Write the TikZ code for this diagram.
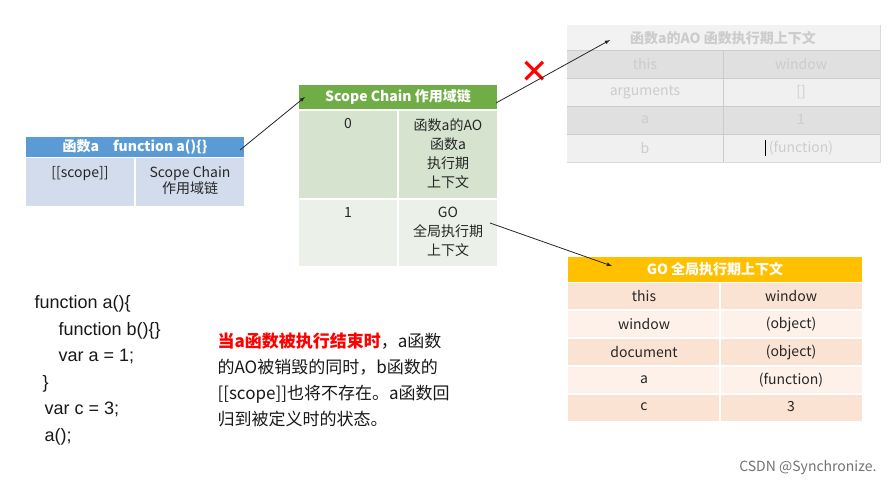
\documentclass[tikz,border=0pt]{standalone}
\usepackage{fontspec}
\setmainfont{Noto Sans CJK SC}
\newfontfamily\symfont{DejaVu Sans}
\newfontfamily\codefont{Liberation Sans}
\begin{document}
\begin{tikzpicture}[x=1pt,y=-1pt,
  cell/.style={draw=white,line width=1.2pt,inner sep=0pt,anchor=north west},
  t/.style={font=\fontsize{14}{16}\selectfont,align=center,text=black!85},
  hd/.style={font=\bfseries\fontsize{14}{16}\selectfont,text=white},
  ar/.style={-latex,thick,black!85}]
\useasboundingbox[fill=white] (0,0) rectangle (893,489);
\definecolor{blueh}{HTML}{5B9BD5}\definecolor{bluer}{HTML}{D3DCEC}
\definecolor{greenh}{HTML}{70AD47}\definecolor{greenr}{HTML}{D5E3CF}\definecolor{greenr2}{HTML}{EBF1E8}
\definecolor{goldh}{HTML}{FFC000}\definecolor{goldr}{HTML}{FBE3D3}\definecolor{goldr2}{HTML}{FDF1E9}
% left table
\fill[blueh] (26,137) rectangle (244,157);
\node[hd] (lh) at (135,147) {函数a\quad function a()\{\}};
\fill[bluer] (26,158) rectangle (134,206);
\fill[bluer] (136,158) rectangle (244,206);
\node[t,anchor=north] (l1) at (80,163) {[[scope]]};
\node[t,anchor=north] (l2) at (190,163) {Scope Chain\\作用域链};
% green table
\fill[greenh] (299,85) rectangle (497,109);
\node[hd] (gh) at (398,97) {Scope Chain 作用域链};
\fill[greenr] (299,111) rectangle (397,198);
\fill[greenr] (399,111) rectangle (497,198);
\fill[greenr2] (299,200) rectangle (397,266);
\fill[greenr2] (399,200) rectangle (497,266);
\node[t,anchor=north] (g0) at (348,115) {0};
\node[t,anchor=north,font=\fontsize{14}{19}\selectfont] (g0v) at (448,115) {函数a的AO\\函数a\\执行期\\上下文};
\node[t,anchor=north] (g1) at (348,204) {1};
\node[t,anchor=north,font=\fontsize{14}{19}\selectfont] (g1v) at (448,204) {GO\\全局执行期\\上下文};
% faded table
\draw[black!15] (567,25) rectangle (880,162);
\fill[black!5] (567,25) rectangle (880,50);
\foreach \y/\c in {50/black!12,78/black!6,106/black!12,134/black!6}{\fill[\c] (567,\y) rectangle (880,\y+28);}
\foreach \y in {50,78,106,134}{\draw[black!20] (567,\y) -- (880,\y);}
\draw[black!20] (723,50) -- (723,162);
\node[font=\bfseries\fontsize{14}{16}\selectfont,text=black!20] (fh) at (723,38) {函数a的AO 函数执行期上下文};
\begin{scope}[every node/.style={font=\fontsize{14}{16}\selectfont,text=black!20}]
\node (f1) at (645,64) {this}; \node (f1v) at (801,64) {window};
\node (f2) at (645,92) {arguments}; \node (f2v) at (801,92) {[]};
\node (f3) at (645,120) {a}; \node (f3v) at (801,120) {1};
\node (f4) at (645,148) {b}; \node (f4v) at (801,148) {(function)};
\end{scope}
\draw[black,thick] (765,140) -- (765,156);
% red X
\node[text=red,font=\symfont\bfseries\fontsize{34}{34}\selectfont] (x) at (535,72) {✕};
% GO table
\fill[goldh] (568,257) rectangle (862,282);
\node[hd] (oh) at (715,269) {GO 全局执行期上下文};
\foreach \y/\c in {282/goldr,310/goldr2,338/goldr,366/goldr2,394/goldr}{
  \fill[\c] (568,\y+1) rectangle (719,\y+27);\fill[\c] (721,\y+1) rectangle (862,\y+27);}
\begin{scope}[every node/.style={t}]
\node (o1) at (644,296) {this}; \node (o1v) at (791,296) {window};
\node (o2) at (644,324) {window}; \node (o2v) at (791,324) {(object)};
\node (o3) at (644,352) {document}; \node (o3v) at (791,352) {(object)};
\node (o4) at (644,380) {a}; \node (o4v) at (791,380) {(function)};
\node (o5) at (644,407) {c}; \node (o5v) at (791,407) {3};
\end{scope}
% arrows
\coordinate (a1s) at (240,150); \coordinate (a1e) at (305,97);
\draw[ar] (a1s) -- (a1e);
\coordinate (a2s) at (496,103); \coordinate (a2e) at (610,40);
\draw[ar] (a2s) -- (a2e);
\coordinate (a3s) at (490,223); \coordinate (a3e) at (612,266);
\draw[ar] (a3s) -- (a3e);
% code
\node[anchor=north west,align=left,font=\codefont\fontsize{18}{26.5}\selectfont,text=black!90] (code) at (31,292)
 {function a()\{\\\hspace{24pt}function b()\{\}\\\hspace{24pt}var a = 1;\\\hspace{8pt}\}\\\hspace{10pt}var c = 3;\\\hspace{10pt}a();};
\node[anchor=north west,align=left,font=\fontsize{17}{26}\selectfont,text=black!90] (note) at (214,329)
 {\textcolor{red}{\bfseries 当a函数被执行结束时}，a函数\\的AO被销毁的同时，b函数的\\{[[scope]]}也将不存在。a函数回\\归到被定义时的状态。};
\node[anchor=east,font=\fontsize{14}{16}\selectfont,text=black!55] (wm) at (880,468) {CSDN @Synchronize.};
\end{tikzpicture}
\end{document}
